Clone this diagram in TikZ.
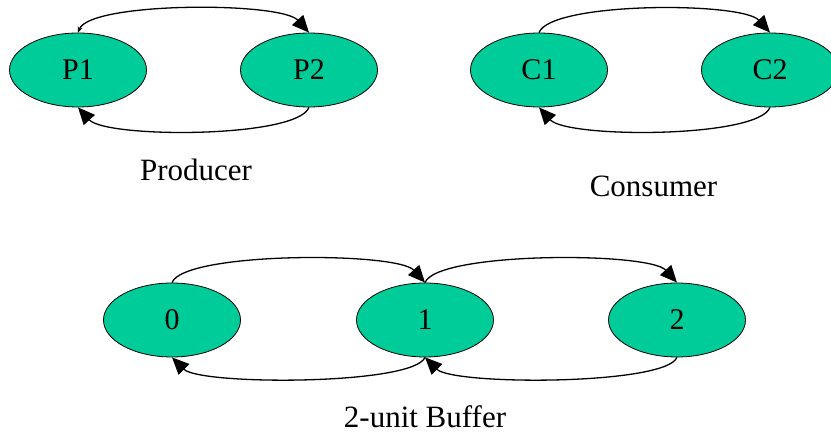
\documentclass[tikz,border=0pt]{standalone}
\usepackage{fontspec}
\setmainfont{Liberation Serif}
\usetikzlibrary{shapes.geometric,arrows.meta}
\definecolor{stategreen}{RGB}{0,204,153}
\begin{document}
\begin{tikzpicture}[x=1pt,y=-1pt,
  state/.style={ellipse,draw=black,line width=0.8pt,fill=stategreen,
    minimum width=137pt,minimum height=74pt,inner sep=0pt,
    font=\fontsize{30}{36}\selectfont},
  caption/.style={anchor=base,font=\fontsize{31}{37}\selectfont},
  bigtip/.tip={Triangle[length=17pt,width=15pt]},
  trans/.style={line width=1.3pt,-bigtip}]
\useasboundingbox (0,0) rectangle (831,435);
\clip (0,0) rectangle (831,435);

% producer: two states
\node[state] (P1) at (78,70) {P1};
\node[state] (P2) at (309,70) {P2};
\draw[trans,{Stealth[length=6pt,width=5pt]}-bigtip]
  (P1.north) .. controls +(12,-31) and +(-28,-31) .. (P2.north);
\draw[trans] (P2.south) .. controls +(-12,31) and +(28,31) .. (P1.south);
\node[caption] (prod) at (196,181) {Producer};

% consumer: two states
\node[state] (C1) at (539,70) {C1};
\node[state] (C2) at (770,70) {C2};
\draw[trans] (C1.north) .. controls +(12,-31) and +(-28,-31) .. (C2.north);
\draw[trans] (C2.south) .. controls +(-12,31) and +(28,31) .. (C1.south);
\node[caption] (cons) at (653.5,197) {Consumer};

% buffer holding up to two units
\node[state] (B0) at (172,320) {0};
\node[state] (B1) at (425,320) {1};
\node[state] (B2) at (677,320) {2};
\draw[trans] (B0.north) .. controls +(12,-31) and +(-28,-31) .. (B1.north);
\draw[trans] (B1.north) .. controls +(12,-31) and +(-28,-31) .. (B2.north);
\draw[trans] (B2.south) .. controls +(-12,28) and +(28,28) .. (B1.south);
\draw[trans] (B1.south) .. controls +(-12,28) and +(28,28) .. (B0.south);
\node[caption] (buf) at (425,428) {2-unit Buffer};
\end{tikzpicture}
\end{document}
